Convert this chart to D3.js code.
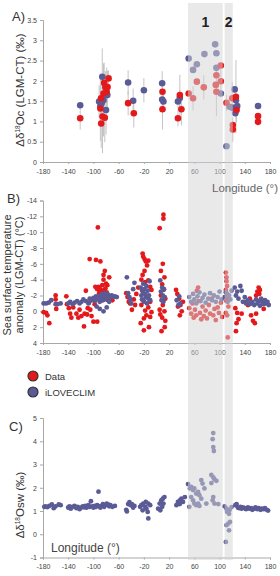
<!DOCTYPE html>
<html>
<head>
<meta charset="utf-8">
<script src="https://cdn.jsdelivr.net/npm/d3@7"></script>
<style>
body { margin: 0; background: #fff; }
svg { display: block; font-family: "Liberation Sans", Arial, sans-serif; }
</style>
</head>
<body>
<svg id="plotCanvas" width="280" height="576"></svg>
<script>
// longitude ticks shared by all three panels
var lonTicks = [-180, -140, -100, -60, -20, 20, 60, 100, 140, 180];
var ticksA = [0, 0.5, 1, 1.5, 2, 2.5, 3, 3.5];
var ticksB = [-14, -12, -10, -8, -6, -4, -2, 0, 2, 4];
var ticksC = [-1, 0, 1, 2, 3, 4, 5];

// shaded regions 1 and 2 (longitude)
var bands = [[50, 105, "1"], [108, 121, "2"]];

// panel A: [lon, d18Oc, error]
var dataA = [
  [-121, 1.08, 0.28], [-89, 1.32, 0.8], [-88, 1.57, 0.5], [-87.7, 0.95, 0.6], [-85.6, 1.12, 0.9],
  [-83, 1.95, 0.5], [-81, 1.84, 0.4], [-79, 1.73, 0.6], [-77.6, 1.85, 0.4], [-76, 2.06, 0.2],
  [-84, 1.69, 0.7], [-82, 1.09, 0.6], [-45, 1.45, 0.3], [-36, 1.20, 0.35],
  [9.5, 1.73, 0.3], [9.5, 1.30, 0.5], [34, 1.08, 0.2], [37, 1.65, 0.5], [39.5, 1.30, 0.4],
  [51, 1.69, 0], [58, 1.57, 0.3], [64, 1.98, 0], [75, 1.84, 0.3], [95, 2.14, 0], [94, 1.90, 0],
  [95, 1.73, 0.6], [102, 2.38, 0], [102, 1.99, 0.3],
  [111, 1.46, 0.2], [120, 1.57, 0.4], [121, 0.91, 0], [121, 0.80, 0.3], [126, 1.61, 0.9],
  [127, 1.28, 0.3], [161, 1.13, 0], [161, 0.99, 0]
];
var modelA = [
  [-121, 1.40, 0], [-91, 1.49, 0.4], [-89, 1.38, 0.5], [-86, 2.10, 0.7], [-84, 1.53, 0.9],
  [-80, 1.28, 0.6], [-78, 1.65, 0.3], [-87, 1.45, 0.3], [-45, 1.96, 0.3], [-37, 1.51, 0.3],
  [-20, 1.77, 0.3], [9, 1.94, 0.3], [9, 1.54, 0.2], [11, 1.49, 0.2], [34, 1.49, 0.2], [37, 1.58, 0.2],
  [51, 2.55, 0], [58, 2.27, 0], [64, 2.41, 0], [76, 2.66, 0], [93, 2.90, 0], [95, 2.68, 0],
  [95, 2.32, 0], [102, 1.69, 0], [111, 0.39, 0], [116, 1.36, 0], [120, 1.34, 0], [124, 1.79, 0],
  [126, 1.52, 0], [125, 1.20, 0], [128, 1.38, 0], [161, 1.38, 0]
];

// panel B: [lon, SST anomaly]
var dataB = [
  [-179, 0.1], [-175, 0.2], [-173, 0.5], [-170, 1.5], [-160, -2.0], [-160, -1.5], [-159, -0.9], [-159, -0.3],
  [-143, -1.9], [-142, -0.9], [-139, -0.4], [-137, 0.3], [-135, 0.8], [-132, -0.5], [-127, 0.3], [-124, 0.8],
  [-122, -0.2], [-119, 0.6], [-115, 1.9], [-114, 0.3], [-112, -2.6], [-110, 0.4], [-109, -0.4], [-107, -1.1],
  [-106, -6.6], [-105, -0.2], [-103, 0.6], [-100, 1.3], [-98, -0.9], [-97, -3.1], [-96, -6.5], [-94, -2.8],
  [-94, 1.3], [-93, -10.6], [-93, -1.8], [-92, -3.1], [-91, -2.3], [-89, -6.3], [-88, -2.6], [-87, -1.4],
  [-86, -3.3], [-84, -4.0], [-84, -4.6], [-83, -2.7], [-82, -5.1], [-80, -1.9], [-80, -3.5], [-79, -2.4],
  [-78, -3.3], [-77, -1.4], [-75, -4.3], [-73, -1.6], [-70, -1.4], [-90, -2.9], [-86, -2.1], [-81, -2.9],
  [-48, -2.3], [-46, -1.8], [-44, -1.2], [-42, -1.0], [-39, -0.2], [-36, -1.5], [-34, -0.8], [-32, -2.2], [-29, -3.0],
  [-22, -7.3], [-21, -6.9], [-19, -6.6], [-17, -6.3], [-13, -6.4], [-15, -5.8], [-19, -5.1], [-22, -4.6],
  [-24, -4.0], [-18, -3.7], [-13, -3.9], [-10, -3.1], [-23, -2.7], [-8, -2.7], [-16, -1.8], [-21, -1.4],
  [-10, -1.2], [-24, -0.8], [-13, -0.5], [-18, -0.1], [-8, 0.1], [-16, 0.5], [-10, 0.7], [-20, 0.9],
  [-25, 1.5], [-12, 2.0], [-20, 2.4],
  [11, -12.2], [11, -11.7], [5, -10.5], [10, -6.0], [7, -5.1], [12.6, -4.3], [9, -3.4], [11, -2.7],
  [7, -2.0], [14, -1.6], [10, -0.8], [5, -0.2], [12.6, 0.0], [9, 0.8], [14, 1.2], [6, 0.4], [13, 2.0], [8, 2.5],
  [31, -2.7], [33, -2.2], [36, -1.6], [38, -0.8], [34, -0.6], [40, 0.0], [37, 0.5], [42, -1.2],
  [52, -0.4], [55, 0.3], [57, -1.0], [59, 0.8], [61, -0.2], [63, 0.5], [64, -2.6], [66, -3.0], [67, -1.3],
  [69, 0.2], [71, 1.0], [73, -0.6], [75, 0.6], [78, -0.1], [80, 0.9], [83, -0.8], [85, 0.3], [88, -1.6],
  [90, 0.5], [92, -0.3], [94, 1.1], [97, -0.5], [99, 0.2], [102, -1.1], [104, 0.7],
  [110, -4.9], [111, -4.3], [111, -3.8], [112, -3.2], [110, -2.7], [112, -2.2], [113, -1.7], [111, -1.3],
  [110, 0.2], [112, 0.5], [113, 3.3], [114, -0.6],
  [127, 1.5], [126, 2.5], [128, 0.2], [125, -0.4], [130, 1.0], [135, 0.3], [140, -1.2], [145, -0.8],
  [150, 0.5], [153, 1.2], [156, 1.5], [158, -2.0], [160, -2.5], [162, -3.0], [164, -2.7], [163, -2.2],
  [166, -1.5], [158, 0.3], [170, -0.3], [148, -1.6]
];
var modelB = [
  [-179, -1.0], [-175, -1.0], [-171, -1.1], [-167, -1.4], [-160, -0.9], [-157, -0.9], [-152, -1.0],
  [-140, -1.0], [-137, -1.2], [-133, -0.9], [-130, -1.1], [-126, -1.3], [-122, -1.0], [-119, -1.2],
  [-116, -1.5], [-112, -1.3], [-108, -1.0], [-106, -1.6], [-103, -1.4], [-100, -1.7], [-98, -1.3],
  [-96, -1.9], [-94, -1.5], [-92, -1.8], [-90, -1.2], [-89, -2.0], [-87, -1.6], [-86, -2.2], [-85, -1.4],
  [-84, -1.8], [-83, -2.0], [-82, -1.5], [-81, -2.3], [-80, -1.7], [-79, -0.5], [-78, -1.9], [-77, -2.1],
  [-76, -1.6], [-75, -1.2], [-73, -1.9], [-71, -2.0], [-69, -1.8], [-66, -1.9], [-63, -1.8],
  [-95, -0.6], [-90, -0.3], [-84, 0.0],
  [-47, -4.3], [-45, -2.3], [-43, -1.8], [-42, -1.5], [-40, -1.0], [-37, -2.8], [-35, -3.6],
  [-25, -3.0], [-24, -2.0], [-23, -1.5], [-22, -2.5], [-21, -3.5], [-20, -1.2], [-19, -2.8], [-18, -2.2],
  [-17, -1.8], [-16, -3.2], [-15, -1.0], [-14, -2.6], [-13, -1.6], [-12, -2.0], [-11, -3.8], [-10, -1.4],
  [6, -3.9], [7, -2.5], [8, -1.4], [9, -3.0], [10, -2.0], [11, -1.2], [12, -2.8], [13, -1.8],
  [32, -1.4], [35, -0.8], [38, -1.0], [36, -1.9],
  [52, -1.8], [55, -1.2], [58, -2.2], [60, -1.5], [63, -1.0], [65, -1.9], [68, -2.4], [70, -1.3],
  [73, -1.7], [76, -2.1], [78, -1.1], [82, -1.6], [85, -2.3], [88, -1.4], [91, -2.0], [94, -1.2],
  [97, -1.8], [100, -2.5], [103, -1.5],
  [108, -1.8], [110, -2.4], [113, -1.2], [115, -2.0], [117, -1.5], [119, -2.6],
  [124, -3.0], [126, -2.0], [128, -2.5], [130, -1.6], [133, -3.2], [135, -2.6], [137, -1.2], [140, -1.8],
  [142, -1.0], [145, -1.4], [148, -0.9], [152, -1.2], [155, -0.8], [158, -1.5], [160, -1.0], [162, -1.3],
  [164, -0.7], [166, -1.6], [168, -1.1], [170, -0.9], [172, -1.4], [174, -1.0], [176, -1.2], [178, -0.8]
];

// panel C: [lon, d18Osw] (model only)
var modelC = [
  [-178, 1.18], [-176, 1.2], [-173, 1.17], [-170, 1.22], [-166, 1.28], [-163, 1.12], [-160, 1.2],
  [-155, 1.28], [-152, 1.25], [-140, 1.15], [-138, 1.2], [-136, 1.1], [-133, 1.18], [-130, 1.22],
  [-127, 1.12], [-125, 1.18], [-122, 1.08], [-120, 1.14], [-117, 1.2], [-115, 1.16], [-113, 1.22],
  [-111, 1.15], [-108, 1.25], [-106, 1.18], [-104, 1.42], [-102, 1.2], [-100, 1.15], [-98, 1.22],
  [-96, 1.18], [-94, 1.25], [-92, 1.83], [-91, 1.2], [-89, 1.15], [-87, 1.22], [-85, 1.3], [-83, 1.18],
  [-81, 1.25], [-79, 1.32], [-77, 1.28], [-75, 1.2], [-73, 1.25], [-70, 1.18], [-66, 1.22],
  [-48, 1.05], [-47, 0.98], [-45, 1.3], [-43, 1.38], [-41, 1.25], [-39, 1.3], [-37, 1.15], [-35, 1.22],
  [-26, 1.18], [-24, 1.25], [-21, 1.32], [-18, 1.18], [-16, 1.1], [-13, 1.32], [-14, 0.96], [-13, 0.68],
  [-10, 1.25], [-22, 1.03], [-17, 1.39],
  [2.6, 1.1], [5, 1.32], [7.6, 1.46], [10, 1.53], [11, 1.32], [9, 1.18], [6, 1.03], [12.6, 1.6],
  [31.6, 1.25], [34, 1.39], [37, 1.46], [39.5, 1.53], [42, 1.39], [45, 1.6], [37, 1.3],
  [50, 2.16], [53, 1.97], [55, 2.04], [58, 1.9], [60, 1.97], [63, 1.75], [66, 1.82], [68, 1.68],
  [71, 2.33], [73, 2.18], [76, 1.97], [71, 1.53], [58, 1.46], [60, 1.32], [63, 1.25], [66, 1.32],
  [68, 1.22], [55, 1.6], [79, 1.32], [52, 1.18],
  [87, 2.55], [90, 2.45], [92, 2.36], [95, 2.3], [87, 2.2], [90, 4.35], [89, 4.09], [90, 3.75], [91, 3.58],
  [90, 1.6], [89, 1.46], [92, 1.32], [98, 1.3],
  [108, 1.2], [111, 1.1], [114, 1.0], [116, 1.05], [119, 1.17], [115, 0.88], [112, 0.96],
  [116.5, 0.53], [114, 0.46], [111, 0.39], [115, 0.17], [110, -0.33],
  [125, 1.25], [127, 1.3], [129, 1.15], [131, 1.12], [133, 1.18], [135, 1.1], [137, 1.15], [140, 1.12],
  [142, 1.08], [145, 1.15], [147, 1.1], [150, 1.12], [152, 1.05], [155, 1.1], [157, 1.15], [160, 1.08],
  [162, 1.12], [165, 1.05], [167, 1.1], [170, 1.08], [172, 1.12], [175, 1.05], [177, 1.02]
];

var redColor = "#e3191c";
var blueColor = "#5a5b96";

var canvas = d3.select("#plotCanvas");
var x = d3.scaleLinear().domain([-180, 180]).range([43, 270]);

var yA = d3.scaleLinear().domain([0, 3.5]).range([162, 20]);
var yB = d3.scaleLinear().domain([-14, 4]).range([200.5, 343]);
var yC = d3.scaleLinear().domain([-1, 5]).range([557.5, 418]);

//draws left and bottom axis of one panel
function drawAxes(y, yTicks, bottomY, yLabelsFmt)
{
   var gy = canvas.append("g")
         .attr("transform", "translate(" + x.range()[0] + ",0)")
         .call(d3.axisLeft(y).tickValues(yTicks).tickSize(3).tickPadding(3).tickFormat(yLabelsFmt));
   var gx = canvas.append("g")
         .attr("transform", "translate(0," + bottomY + ")")
         .call(d3.axisBottom(x).tickValues(lonTicks).tickSize(2).tickPadding(5).tickFormat(d => String(d)));
   [gy, gx].forEach(function(g) {
      g.select(".domain").attr("stroke", "#a8a8a8");
      g.selectAll(".tick line").attr("stroke", "#a8a8a8");
      g.selectAll(".tick text").attr("fill", "#444").attr("font-size", "7px")
         .attr("font-family", "Liberation Sans, Arial, sans-serif");
   });
}

drawAxes(yA, ticksA, yA(0), d => String(d));
drawAxes(yB, ticksB, yB(4), d => String(d));
drawAxes(yC, ticksC, yC(-1), d => String(d));

//error bars panel A
canvas.append("g").selectAll("line")
      .data(dataA.concat(modelA).filter(d => d[2] > 0))
      .enter().append("line")
      .attr("x1", d => x(d[0])).attr("x2", d => x(d[0]))
      .attr("y1", d => yA(d[1] + d[2])).attr("y2", d => yA(Math.max(0, d[1] - d[2])))
      .attr("stroke", "#c4c4c4").attr("stroke-width", 1);

function dots(data, y, color, r)
{
   canvas.append("g").selectAll("circle")
         .data(data).enter().append("circle")
         .attr("cx", d => x(d[0]))
         .attr("cy", d => y(d[1]))
         .attr("r", r)
         .attr("fill", color);
}

dots(modelA, yA, blueColor, 3.3);
dots(dataA, yA, redColor, 3.3);
dots(dataB, yB, redColor, 2.4);
dots(modelB, yB, blueColor, 2.4);
dots(modelC, yC, blueColor, 2.4);

//semi transparent bands on top of everything
bands.forEach(function(b) {
   canvas.append("rect")
         .attr("x", x(b[0]))
         .attr("y", 3)
         .attr("width", x(b[1]) - x(b[0]))
         .attr("height", 557)
         .attr("fill", "#d4d4d6")
         .attr("opacity", 0.5);
   canvas.append("text")
         .attr("x", (x(b[0]) + x(b[1])) / 2)
         .attr("y", 27)
         .attr("text-anchor", "middle")
         .attr("font-size", "14px")
         .attr("font-weight", "bold")
         .attr("fill", "#222")
         .text(b[2]);
});

//panel letters
[["A)", 12, 21], ["B)", 7, 203], ["C)", 9, 431]].forEach(function(t) {
   canvas.append("text").attr("x", t[1]).attr("y", t[2])
         .attr("font-size", "13px").attr("fill", "#333").text(t[0]);
});

//y axis titles
var titleA = canvas.append("text")
      .attr("transform", "translate(24,90) rotate(-90)")
      .attr("text-anchor", "middle").attr("font-size", "11.5px").attr("fill", "#333");
titleA.append("tspan").text("Δδ");
titleA.append("tspan").attr("font-size", "6.5px").attr("dy", "-4").text("18");
titleA.append("tspan").attr("dy", "4").text("Oc (LGM-CT) (‰)");

canvas.append("text")
      .attr("transform", "translate(11,275) rotate(-90)")
      .attr("text-anchor", "middle").attr("font-size", "11px").attr("fill", "#333")
      .text("Sea surface temperature");
canvas.append("text")
      .attr("transform", "translate(23,275) rotate(-90)")
      .attr("text-anchor", "middle").attr("font-size", "11px").attr("fill", "#333")
      .text("anomaly (LGM-CT) (°C)");

var titleC = canvas.append("text")
      .attr("transform", "translate(24,505) rotate(-90)")
      .attr("text-anchor", "middle").attr("font-size", "11.5px").attr("fill", "#333");
titleC.append("tspan").text("Δδ");
titleC.append("tspan").attr("font-size", "6.5px").attr("dy", "-4").text("18");
titleC.append("tspan").attr("dy", "4").text("Osw (‰)");

//longitude labels
canvas.append("text").attr("x", 278).attr("y", 192)
      .attr("text-anchor", "end")
      .attr("font-size", "11.5px").attr("fill", "#666").text("Longitude (°)");
canvas.append("text").attr("x", 51).attr("y", 552)
      .attr("font-size", "12px").attr("fill", "#444").text("Longitude (°)");

//legend
var legend = [["Data", redColor, 376], ["iLOVECLIM", blueColor, 392]];
legend.forEach(function(l) {
   canvas.append("circle").attr("cx", 33).attr("cy", l[2]).attr("r", 5)
         .attr("fill", l[1]).attr("stroke", "#333").attr("stroke-width", 1.2);
   canvas.append("text").attr("x", 45).attr("y", l[2] + 3.5)
         .attr("font-size", "9.5px").attr("fill", "#333").text(l[0]);
});
</script>
</body>
</html>
